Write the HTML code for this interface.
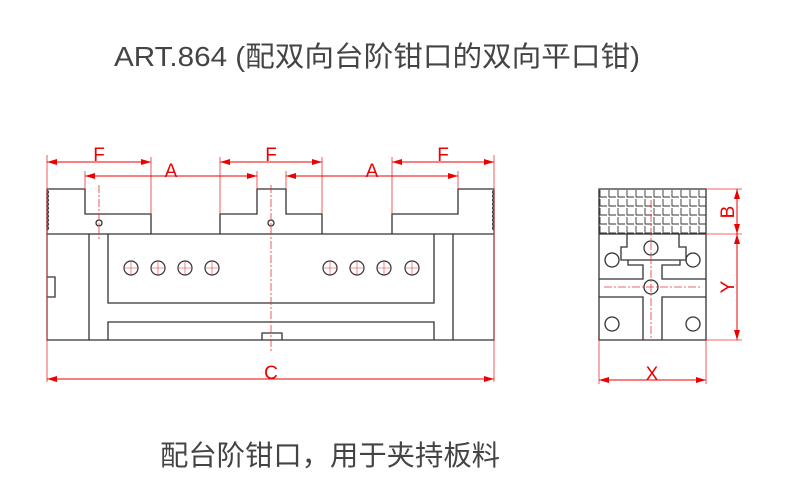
<!DOCTYPE html>
<html><head><meta charset="utf-8"><style>
html,body{margin:0;padding:0;background:#fff;width:798px;height:502px;overflow:hidden}
svg{display:block}
</style></head><body>
<svg width="798" height="502" viewBox="0 0 798 502" xmlns="http://www.w3.org/2000/svg">
<defs>
<marker id="ar" viewBox="0 0 10 6" refX="10" refY="3" markerWidth="10" markerHeight="6" orient="auto-start-reverse" markerUnits="userSpaceOnUse"><path d="M0,0L10,3L0,6z" fill="#e00"/></marker>
</defs>
<text x="114" y="66" font-family="'Liberation Sans','Noto Sans CJK SC',sans-serif" font-size="28" fill="#444" textLength="526" lengthAdjust="spacingAndGlyphs">ART.864 (配双向台阶钳口的双向平口钳)</text>
<text x="160" y="465" font-family="'Liberation Sans','Noto Sans CJK SC',sans-serif" font-size="28" fill="#444" textLength="340" lengthAdjust="spacingAndGlyphs">配台阶钳口，用于夹持板料</text>

<g fill="none" stroke="#333" stroke-width="1.3">
<path d="M47,234H494V340H47z"/>
<path d="M47,277h8v20h-8"/>
<path d="M89,234V340M453,234V340"/>
<path d="M108,234V303H434V234"/>
<path d="M108,340V322H434V340"/>
<path d="M262,340v-7h20v7"/>
<path d="M47,234V189H85V214H151V234"/>
<path d="M220,234V214H257V189H286V214H322V234"/>
<path d="M392,234V214H458V189H494V234"/>
<path d="M47,190q3,2 0,4q3,2 0,4q3,2 0,4q3,2 0,4q3,2 0,4q3,2 0,4q3,2 0,4q3,2 0,4q3,2 0,4q3,2 0,4"/>
<path d="M494,190q-3,2 0,4q-3,2 0,4q-3,2 0,4q-3,2 0,4q-3,2 0,4q-3,2 0,4q-3,2 0,4q-3,2 0,4q-3,2 0,4q-3,2 0,4"/>
<circle cx="99" cy="223" r="3"/><circle cx="271" cy="223" r="3"/>
<g stroke-width="1.2">
<circle cx="131" cy="268" r="7"/><circle cx="158" cy="268" r="7"/><circle cx="185" cy="268" r="7"/><circle cx="212" cy="268" r="7"/>
<circle cx="330" cy="268" r="7"/><circle cx="357" cy="268" r="7"/><circle cx="384" cy="268" r="7"/><circle cx="412" cy="268" r="7"/>
</g>
<path d="M599,189H706V340H599z"/>
<path d="M599,234H706"/>
<path stroke-width="0.9" d="M600,190v7h7m2-7v7h7m2-7v7h7m2-7v7h7m2-7v7h7m2-7v7h7m2-7v7h7m2-7v7h7m2-7v7h7m2-7v7h7m2-7v7h7m2-7v7h7
M600,199v7h7m2-7v7h7m2-7v7h7m2-7v7h7m2-7v7h7m2-7v7h7m2-7v7h7m2-7v7h7m2-7v7h7m2-7v7h7m2-7v7h7m2-7v7h7
M600,208v7h7m2-7v7h7m2-7v7h7m2-7v7h7m2-7v7h7m2-7v7h7m2-7v7h7m2-7v7h7m2-7v7h7m2-7v7h7m2-7v7h7m2-7v7h7
M600,217v7h7m2-7v7h7m2-7v7h7m2-7v7h7m2-7v7h7m2-7v7h7m2-7v7h7m2-7v7h7m2-7v7h7m2-7v7h7m2-7v7h7m2-7v7h7
M600,226v7h7m2-7v7h7m2-7v7h7m2-7v7h7m2-7v7h7m2-7v7h7m2-7v7h7m2-7v7h7m2-7v7h7m2-7v7h7m2-7v7h7m2-7v7h7"/>
<path d="M627,234V247H621V260H628V265H643V279H599"/>
<path d="M679,234V247H686V260H680V265H662V279H706"/>
<path d="M628,260H680"/>
<path d="M599,297H643V340M706,297H662V340"/>
<circle cx="612" cy="260" r="7"/><circle cx="693" cy="260" r="7"/>
<circle cx="651" cy="248" r="7"/><circle cx="651" cy="287" r="7"/>
<circle cx="612" cy="324" r="7"/><circle cx="693" cy="324" r="7"/>
</g>

<g stroke="#e33" stroke-width="0.8" fill="none">
<path stroke-dasharray="8,2,2,2" d="M99,185V240M271,185V353M651,200V340M604,287H702"/>
<g stroke-width="0.6">
<path d="M124,268h14M131,261v14M151,268h14M158,261v14M178,268h14M185,261v14M205,268h14M212,261v14M323,268h14M330,261v14M350,268h14M357,261v14M377,268h14M384,261v14M405,268h14M412,261v14"/>
</g>
<path d="M47,155V382M494,155V382M151,157V214M220,157V214M322,157V214M392,157V214M85,171V189M257,171V189M286,171V189M458,171V189"/>
<path d="M706,189H742M706,234H742M706,340H742M599,340V384M706,340V384"/>
</g>
<g stroke="#e00" stroke-width="1" fill="none">
<path d="M47,162H151" marker-start="url(#ar)" marker-end="url(#ar)"/>
<path d="M220,162H322" marker-start="url(#ar)" marker-end="url(#ar)"/>
<path d="M392,162H494" marker-start="url(#ar)" marker-end="url(#ar)"/>
<path d="M85,176H257" marker-start="url(#ar)" marker-end="url(#ar)"/>
<path d="M286,176H458" marker-start="url(#ar)" marker-end="url(#ar)"/>
<path d="M47,379H494" marker-start="url(#ar)" marker-end="url(#ar)"/>
<path d="M737,189V234" marker-start="url(#ar)" marker-end="url(#ar)"/>
<path d="M737,234V340" marker-start="url(#ar)" marker-end="url(#ar)"/>
<path d="M599,380H706" marker-start="url(#ar)" marker-end="url(#ar)"/>
</g>
<g fill="#e00" font-family="'Liberation Sans',sans-serif" font-size="19" text-anchor="middle">
<text x="99" y="161">F</text><text x="271" y="161">F</text><text x="443" y="161">F</text>
<text x="171" y="177">A</text><text x="372" y="177">A</text>
<text x="271" y="379">C</text>
<text x="652" y="380">X</text>
<text transform="translate(736,212) rotate(-90)" y="-2">B</text>
<text transform="translate(736,287) rotate(-90)" y="-2">Y</text>
</g>
</svg>
</body></html>
